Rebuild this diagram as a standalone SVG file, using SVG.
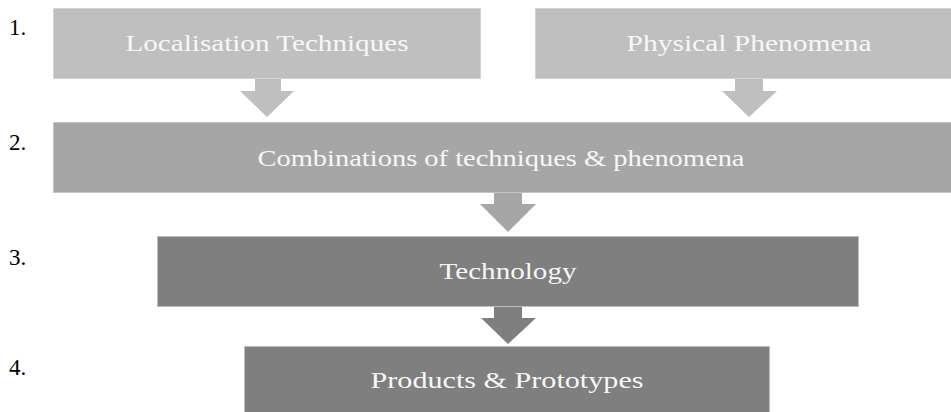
<svg xmlns="http://www.w3.org/2000/svg" width="951" height="412" viewBox="0 0 951 412">
  <style>
    .lbl { font-family: 'Liberation Serif', serif; font-size: 24px; fill: #f7f7f7; text-anchor: middle; }
    .num { font-family: 'Liberation Serif', serif; font-size: 23px; fill: #000000; }
    .l1 { fill: #bfbfbf; stroke: #d4d4d4; stroke-width: 1; }
    .l2 { fill: #a6a6a6; stroke: #c4c4c4; stroke-width: 1; }
    .l3 { fill: #7f7f7f; stroke: #bdbdbd; stroke-width: 1; }
    .a1 { fill: #bfbfbf; }
    .a2 { fill: #a6a6a6; }
    .a3 { fill: #7f7f7f; }
  </style>
  <rect width="951" height="412" fill="#ffffff"/>
  <g id="numbers">
    <text class="num" x="9" y="35">1.</text>
    <text class="num" x="9" y="150">2.</text>
    <text class="num" x="9" y="265">3.</text>
    <text class="num" x="9" y="375">4.</text>
  </g>
  <g id="connectors">
    <polygon class="a1" points="255,79 281,79 281,91 294,91 267,117 240,91 255,91"/>
    <polygon class="a1" points="735,79 763,79 763,91 777,91 749,117 722,91 735,91"/>
    <polygon class="a2" points="494,193 522,193 522,204 536,204 508,232 480,204 494,204"/>
    <polygon class="a3" points="494,307 522,307 522,318 536,318 508,344 481,318 494,318"/>
  </g>
  <g id="localisation">
    <rect class="l1" x="53.5" y="8.5" width="427" height="70"/>
    <text class="lbl" x="267" y="51" textLength="283" lengthAdjust="spacingAndGlyphs">Localisation Techniques</text>
  </g>
  <g id="physical">
    <rect class="l1" x="535.5" y="8.5" width="430" height="70"/>
    <text class="lbl" x="749" y="51" textLength="245" lengthAdjust="spacingAndGlyphs">Physical Phenomena</text>
  </g>
  <g id="combinations">
    <rect class="l2" x="53.5" y="122.5" width="910" height="70"/>
    <text class="lbl" x="501" y="166" textLength="487" lengthAdjust="spacingAndGlyphs">Combinations of techniques &amp; phenomena</text>
  </g>
  <g id="technology">
    <rect class="l3" x="157.5" y="236.5" width="701" height="70"/>
    <text class="lbl" x="508" y="279" textLength="137" lengthAdjust="spacingAndGlyphs">Technology</text>
  </g>
  <g id="products">
    <rect class="l3" x="244.5" y="346.5" width="525" height="72"/>
    <text class="lbl" x="507" y="388" textLength="273" lengthAdjust="spacingAndGlyphs">Products &amp; Prototypes</text>
  </g>
</svg>
